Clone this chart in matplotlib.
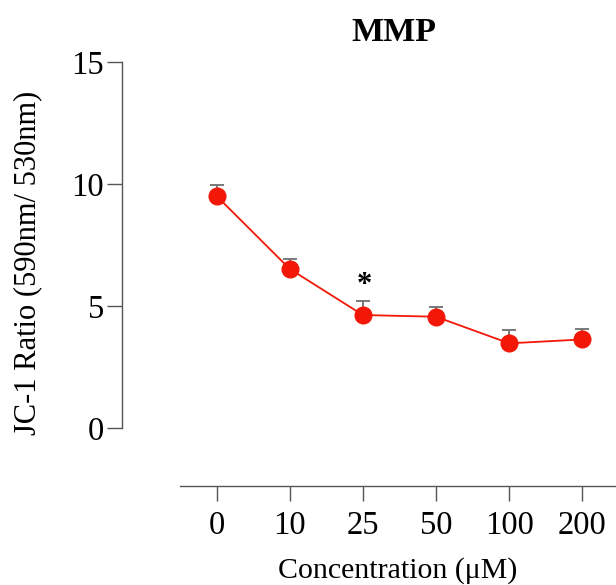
import matplotlib
matplotlib.use("Agg")
import matplotlib.pyplot as plt
import numpy as np

categories = ["0", "10", "25", "50", "100", "200"]
values = [9.51, 6.52, 4.63, 4.56, 3.47, 3.63]
errors = [0.45, 0.41, 0.57, 0.39, 0.55, 0.43]
significant = ["", "", "*", "", "", ""]

plt.rcParams['font.family'] = ['Liberation Serif', 'DejaVu Serif']

W, H = 616, 585
fig = plt.figure(figsize=(W / 100, H / 100), dpi=100)
ax = fig.add_axes([180 / W, (H - 428) / H, (616 - 180) / W, (428 - 62) / H])

x = np.arange(len(categories))
ax.errorbar(x, values, yerr=[np.zeros(len(errors)), errors], fmt='none',
            ecolor='#6e6e6e', elinewidth=1.3, capsize=5, capthick=1.3, zorder=2)
ax.plot(x, values, color='#f21707', lw=1.3, marker='o', markersize=12,
        markerfacecolor='#f21707', markeredgecolor='#f21707', zorder=3)

for xi, v, e, s in zip(x, values, errors, significant):
    if s:
        ax.text(xi + 0.02, v + e + 0.35, s, ha='center', va='baseline',
                fontsize=22, fontweight='bold', color='black')

ax.set_xlim(-0.5, 5.46)
ax.set_ylim(0, 15)
ax.set_xticks(x)
ax.set_xticklabels(categories)
ax.set_yticks([0, 5, 10, 15])

px = 0.72  # points per pixel at dpi 100
for side in ['top', 'right']:
    ax.spines[side].set_visible(False)
ax.spines['left'].set_position(('outward', 58 * px))
ax.spines['bottom'].set_position(('outward', 58 * px))
for side in ['left', 'bottom']:
    ax.spines[side].set_color('#555555')
    ax.spines[side].set_linewidth(1.0)

ax.tick_params(axis='both', length=11, width=1.0, color='#555555',
               labelcolor='black')
ax.tick_params(axis='y', pad=2, labelsize=23.5)
ax.tick_params(axis='x', pad=7, labelsize=23.5)

ax.set_xlabel("Concentration (μM)", fontsize=21.5, labelpad=11)
ax.set_ylabel("JC-1 Ratio (590nm/ 530nm)", fontsize=22)
ax.yaxis.set_label_coords(-0.315, 0.45)

ax.set_title("MMP", fontsize=24.5, fontweight='bold', x=0.49, pad=15)

fig.savefig("out.png", dpi=100)
